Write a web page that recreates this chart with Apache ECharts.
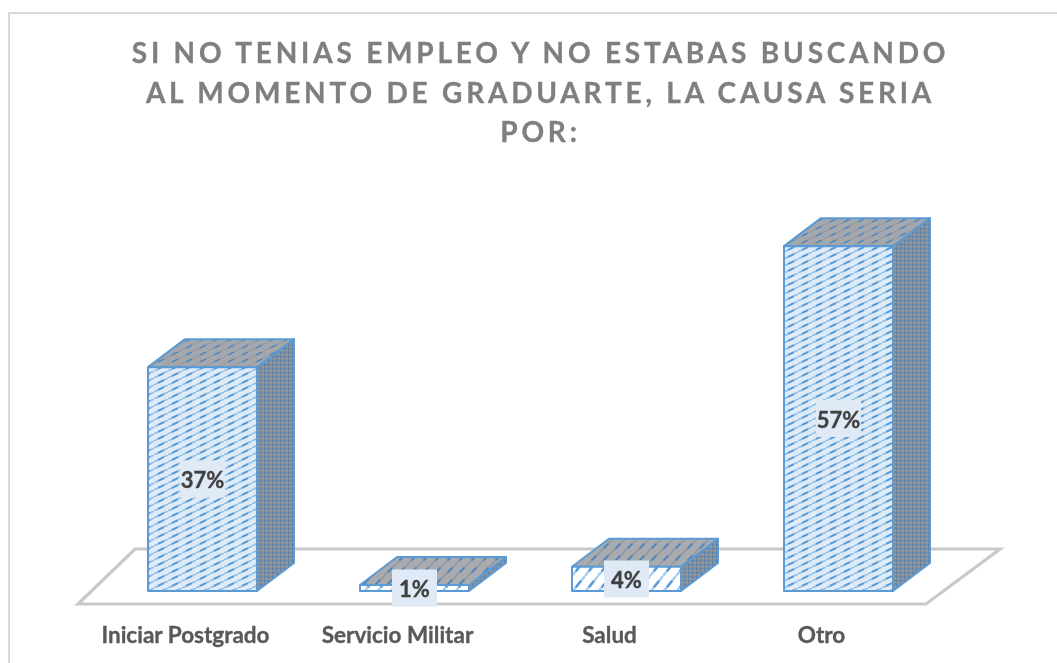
<!DOCTYPE html>
<html>
<head>
<meta charset="utf-8">
<style>
html,body{margin:0;padding:0;background:#fff}
#main{width:1057px;height:663px;filter:blur(0.55px)}
#main text{-webkit-text-stroke:0.35px currentColor;stroke-width:0.35px}
#main text[style*="28px"]{letter-spacing:3.8px;stroke:#7f7f7f}
#main text[style*="22.5px"]{stroke:#595959}
#main text[style*="22px"]{stroke:#404040}
</style>
<script src="https://cdn.jsdelivr.net/npm/echarts@6/dist/echarts.min.js"></script>
</head>
<body>
<div id="main"></div>
<script>
const titleLines = ['SI NO TENIAS EMPLEO Y NO ESTABAS BUSCANDO', 'AL MOMENTO DE GRADUARTE, LA CAUSA SERIA', 'POR:'];
const categories = ['Iniciar Postgrado', 'Servicio Militar', 'Salud', 'Otro'];
const values = [37, 1, 4, 57];

const BLUE = '#5b9bd5';
const DX = 37, DY = 28;

function tile(w, h, bg, draw) {
  const c = document.createElement('canvas');
  c.width = w; c.height = h;
  const g = c.getContext('2d');
  g.fillStyle = bg; g.fillRect(0, 0, w, h);
  draw(g, w, h);
  return { image: c, repeat: 'repeat' };
}
function diag(stroke, lw, dash, dashWidth) {
  return function (g, w, h) {
    g.strokeStyle = stroke; g.lineWidth = lw;
    for (let i = -1; i <= 1; i++) {
      g.beginPath(); g.moveTo(i * w, h); g.lineTo(i * w + w, 0); g.stroke();
    }
    if (dash) {
      g.strokeStyle = dash; g.lineWidth = dashWidth;
      g.beginPath(); g.moveTo(w * 0.3, h * 0.7); g.lineTo(w * 0.7, h * 0.3); g.stroke();
    }
  };
}
const frontFine = tile(14, 7, '#dfecf8', diag('#96bfe7', 1.9, '#5b9bd5', 1.9));
const frontCoarse = tile(13, 16, '#ffffff', diag('#a9cdee', 2.4, '#5b9bd5', 2.4));
const topFine = tile(14, 7, '#a4a8ad', diag('#929ba5', 1.4, '#4f86bf', 1.6));
const topCoarse = tile(12, 12, '#a9abae', diag('#8f9aa6', 1.6, '#4f86bf', 2));
const sideFill = tile(4, 4, '#808c98', function (g) {
  g.fillStyle = '#4f7fb2'; g.fillRect(0, 0, 1, 2);
  g.fillStyle = '#98a3ad'; g.fillRect(2, 2, 2, 1);
});

function renderFloor(params, api) {
  const cs = params.coordSys;
  const base = cs.y + cs.height;
  const l = cs.x, r = cs.x + cs.width;
  return {
    type: 'polygon',
    shape: { points: [[l - 18.5, base + 13], [l + 38.5, base - 42], [r + 55.5, base - 42], [r - 18.5, base + 13]] },
    style: { fill: '#ffffff', stroke: '#c9c9c9', lineWidth: 3.2 }
  };
}

function renderBar(params, api) {
  const p0 = api.coord([api.value(0), 0]);
  const p1 = api.coord([api.value(0), api.value(1)]);
  const w = api.size([1, 0])[0] * 0.514;
  const xl = p0[0] - w / 2, xr = p0[0] + w / 2, yb = p0[1], yt = p1[1];
  const short = api.value(1) < 10;
  const line = { stroke: BLUE, lineWidth: 2, lineJoin: 'round' };
  return {
    type: 'group',
    children: [
      { type: 'polygon', z2: 1,
        shape: { points: [[xr, yb], [xr + DX, yb - DY], [xr + DX, yt - DY], [xr, yt]] },
        style: Object.assign({ fill: sideFill }, line) },
      { type: 'polygon', z2: 2,
        shape: { points: [[xl, yt], [xl + DX, yt - DY], [xr + DX, yt - DY], [xr, yt]] },
        style: Object.assign({ fill: short ? topCoarse : topFine }, line) },
      { type: 'rect', z2: 3,
        shape: { x: xl, y: yt, width: w, height: yb - yt },
        style: Object.assign({ fill: short ? frontCoarse : frontFine }, line) },
      { type: 'rect', z2: 4,
        shape: { x: p0[0] - 22.5, y: (yb + yt) / 2 - 18.5, width: 45, height: 37 },
        style: { fill: '#dfeaf6' } },
      { type: 'text', z2: 5,
        style: {
          text: api.value(1) + '%', x: p0[0], y: (yb + yt) / 2 + 0.5,
          align: 'center', verticalAlign: 'middle',
          fill: '#404040', font: 'bold 22px Lato'
        } }
    ]
  };
}

const chart = echarts.init(document.getElementById('main'), null, { renderer: 'svg' });
chart.setOption({
  animation: false,
  backgroundColor: '#ffffff',
  title: titleLines.map(function (t, i) {
    return {
      text: t, left: 540.5, top: 38 + i * 39.5, textAlign: 'center', padding: 0,
      textStyle: { fontFamily: 'Lato', fontWeight: 'bold', fontSize: 28, color: '#7f7f7f' }
    };
  }),
  grid: { left: 96.5, width: 848, top: 228, height: 363 },
  xAxis: {
    type: 'category', data: categories,
    axisLine: { show: false }, axisTick: { show: false }, splitLine: { show: false },
    axisLabel: {
      interval: 0, margin: 32, padding: [0, 34, 0, 0],
      fontFamily: 'Lato', fontWeight: 'bold', fontSize: 22.5, color: '#595959'
    }
  },
  yAxis: { type: 'value', min: 0, max: 60, show: false },
  graphic: [{
    type: 'polyline', silent: true,
    shape: { points: [[9, 663], [9, 13], [1057, 13]] },
    style: { fill: 'none', stroke: '#d9d9d9', lineWidth: 2 }
  }],
  series: [
    { type: 'custom', renderItem: renderFloor, data: [[0, 0]], silent: true, z: 1, clip: false },
    { type: 'custom', renderItem: renderBar, silent: true, z: 2, clip: false,
      encode: { x: 0, y: 1 },
      data: categories.map(function (c, i) { return [i, values[i]]; }) }
  ]
});
</script>
</body>
</html>
